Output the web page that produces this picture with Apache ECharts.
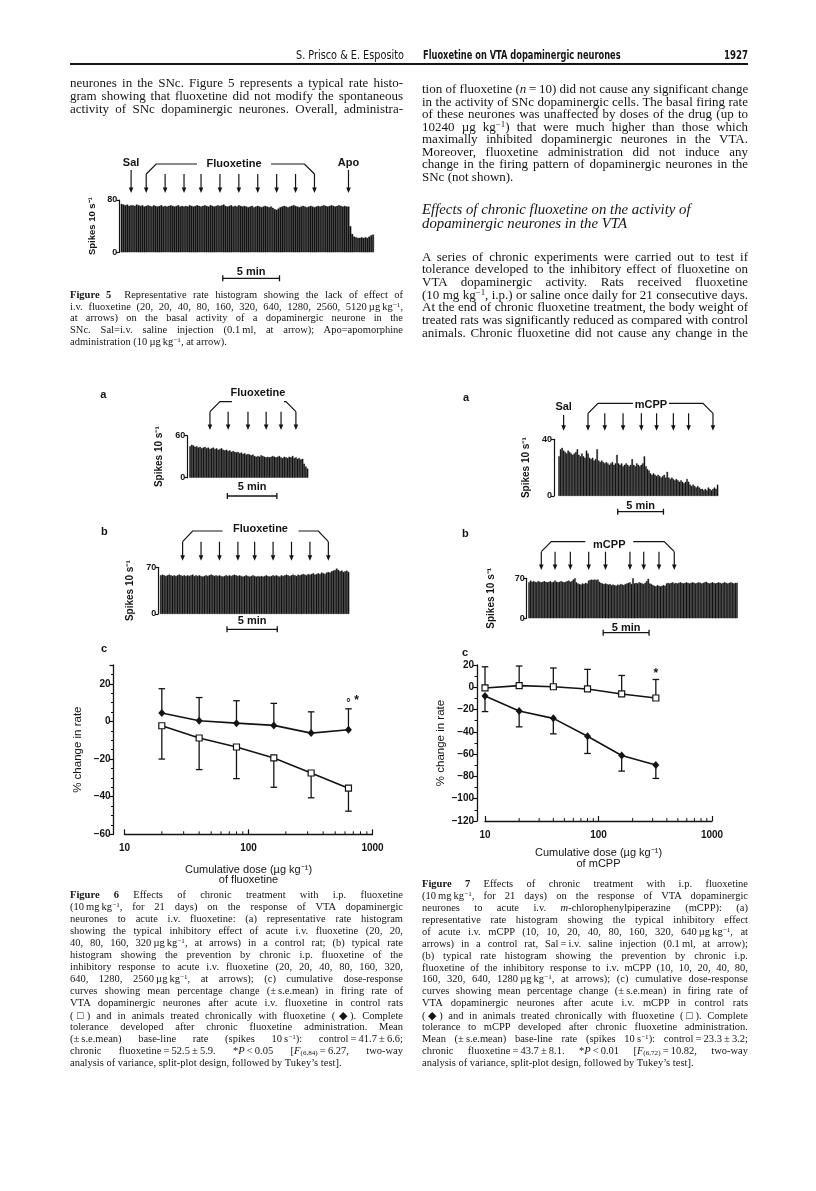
<!DOCTYPE html>
<html>
<head>
<meta charset="utf-8">
<script src="https://cdn.jsdelivr.net/npm/echarts@6/dist/echarts.min.js"></script>
<style>
  body { margin: 0; background: #fff; }
  #page { position: relative; width: 816px; height: 1191px; overflow: hidden; background: #fff; }
  #chart { position: absolute; left: 0; top: 0; width: 816px; height: 1191px; }
  .ln { position: absolute; white-space: nowrap; color: #141414; font-family: "Liberation Serif", "Times New Roman", serif; }
  .ln sup { font-size: 0.68em; vertical-align: 0.45em; line-height: 0; }
  .ln sub { font-size: 0.68em; vertical-align: -0.2em; line-height: 0; }
  .hd { position: absolute; color: #141414; white-space: nowrap; }
  .pl { position: absolute; font: bold 11px "Liberation Sans", Arial, sans-serif; color: #141414; }
</style>
</head>
<body>
<div id="page">
  <div id="chart"></div>
</div>
<script>
// ---- rate histograms: spikes per 10 s bin ----
var fig5Bins = [
  74,73,72,73,71,72,72,71,73,72,71,72,70,71,72,71,70,72,71,70,
  71,72,70,71,70,71,72,71,70,71,72,70,71,70,71,70,72,71,70,71,
  72,71,70,71,72,71,70,72,71,70,71,72,71,72,73,71,70,71,72,70,
  71,70,72,71,70,71,70,69,70,71,69,70,71,70,69,70,71,70,69,70,
  68,66,65,67,69,70,71,70,69,70,71,72,71,70,69,70,71,70,69,70,
  71,70,69,70,71,70,71,72,71,70,71,72,71,70,71,72,71,70,71,70,
  70,40,28,24,23,22,22,23,22,23,22,24,26,27
];
var fig5Sal = 5;
var fig5Fluox = [13, 23, 33, 42, 52, 62, 72, 82, 92, 102];
var fig5Apo = 120;

var fig6aBins = [
  45,47,46,44,45,43,44,42,43,44,42,43,
  41,42,43,41,42,40,41,42,40,39,40,38,
  39,37,38,37,36,37,35,36,34,35,33,34,
  33,32,33,31,30,31,30,32,31,30,29,30,
  29,30,31,30,29,30,31,29,28,30,29,28,
  30,29,31,28,29,27,28,26,27,20,16,13
];
var fig6aFluox = [12, 23, 35, 46, 55, 64];

var fig6bBins = [
  58,59,58,57,58,59,58,57,58,57,58,59,58,57,58,
  57,58,57,58,59,57,58,57,58,57,56,57,58,57,58,
  59,58,57,58,57,58,57,56,57,58,57,58,57,58,59,
  58,57,58,57,56,57,58,57,56,57,58,57,56,57,56,
  57,56,57,58,57,56,57,58,57,58,57,56,58,57,58,
  59,58,57,58,59,58,57,59,58,59,60,59,58,60,59,
  60,61,59,60,61,60,62,61,60,62,63,62,64,65,66,
  68,66,64,65,63,64,65,63
];
var fig6bFluox = [13, 24, 35, 46, 56, 67, 78, 89, 100];

var fig7aBins = [
  28,33,34,32,31,30,32,31,30,29,
  30,31,33,29,28,30,28,27,32,30,
  27,26,27,25,26,33,25,24,25,24,
  23,24,23,22,23,24,22,23,29,23,
  22,23,21,22,23,22,21,22,26,22,
  21,23,22,21,22,23,28,21,19,18,
  16,15,16,15,14,15,14,13,14,15,
  13,17,13,12,13,12,11,12,11,10,
  11,10,9,10,12,10,8,7,8,7,
  6,7,6,5,5,4,5,4,6,5,
  4,5,6,5,8
];
var fig7aSal = 3;
var fig7aMcpp = [19, 30, 42, 54, 64, 75, 85, 101];

var fig7bBins = [
  63,66,64,65,64,63,65,64,63,64,
  65,64,63,64,65,63,64,66,64,63,
  64,65,64,63,64,65,66,64,65,68,
  70,63,61,60,59,61,60,62,61,66,
  67,68,67,68,67,68,64,62,61,60,
  61,60,59,60,58,59,58,57,59,58,
  60,59,58,60,61,62,63,60,70,61,
  62,61,63,62,61,60,62,65,69,61,
  60,58,57,56,58,57,56,57,58,57,
  61,62,61,62,63,61,62,61,62,63,
  62,61,62,63,62,61,62,63,62,61,
  62,63,62,61,62,63,64,62,61,62,
  63,62,61,62,63,62,61,62,63,62,
  61,62,63,62,61,62,62
];
var fig7bMcpp = [8, 17, 27, 39, 50, 66, 75, 85, 95];

var binsPer5min = 30; // 10 s bins

// ---- cumulative dose-response curves ----
var fig6Dose = [20, 40, 80, 160, 320, 640];
var fig6Control = [-2.3, -8.8, -13.6, -19.4, -27.4, -35.5];
var fig6ControlSem = [17.7, 16.8, 16.8, 15.6, 13.2, 12.2];
var fig6Chronic = [4.5, 0.4, -0.9, -2.1, -6.2, -4.4];
var fig6ChronicSem = [12.9, 12.3, 11.9, 11.7, 11.3, 11.1];

var fig7Dose = [10, 20, 40, 80, 160, 320];
var fig7Control = [-7.8, -21.2, -27.9, -43.9, -61.2, -69.7];
var fig7ControlSem = [14, 14.3, 13.9, 15.5, 14, 12.1];
var fig7Chronic = [-0.6, 1.5, 0.5, -1.5, -6, -9.6];
var fig7ChronicSem = [19, 17.6, 16.8, 17.6, 16.6, 16.6];

var logMinorTicks = [20, 30, 40, 50, 60, 70, 80, 90, 200, 300, 400, 500, 600, 700, 800, 900];

// ---------------------------------------------------------------
var INK = '#141414';
var SANS = '"Liberation Sans", Arial, sans-serif';

var hists = [
  { data: fig5Bins,  max: 80, grid: { left: 120.7, top: 200,   width: 253.3, height: 52.3 }, off: 1.4, gap: 22, ns: 9.5 },
  { data: fig6aBins, max: 60, grid: { left: 189.3, top: 435.7, width: 119,   height: 42 },   off: 2,   gap: 23, ns: 10 },
  { data: fig6bBins, max: 70, grid: { left: 160,   top: 567.3, width: 189.3, height: 46.7 }, off: 1.7, gap: 23, ns: 10 },
  { data: fig7aBins, max: 40, grid: { left: 558.3, top: 439.3, width: 160,   height: 56.7 }, off: 4.3, gap: 23, ns: 10 },
  { data: fig7bBins, max: 70, grid: { left: 528.3, top: 578.3, width: 209.4, height: 40 },   off: 1.6, gap: 30, ns: 10 }
];

var grids = [], xAxes = [], yAxes = [], series = [];

hists.forEach(function (h, i) {
  grids.push(h.grid);
  xAxes.push({
    type: 'category', gridIndex: i, show: false, boundaryGap: true,
    data: h.data.map(function (v, k) { return k; })
  });
  yAxes.push({
    type: 'value', gridIndex: i, min: 0, max: h.max, interval: h.max, offset: h.off,
    axisLine: { show: true, lineStyle: { color: INK, width: 1.2 } },
    axisTick: { show: true, length: 3, lineStyle: { color: INK, width: 1.2 } },
    axisLabel: { color: INK, fontSize: 9, fontWeight: 'bold', fontFamily: SANS, margin: 2 },
    splitLine: { show: false },
    name: 'Spikes 10 s\u207B\u00B9', nameLocation: 'middle', nameGap: h.gap,
    nameTextStyle: { color: INK, fontSize: h.ns, fontWeight: 'bold', fontFamily: SANS }
  });
  series.push({
    type: 'bar', xAxisIndex: i, yAxisIndex: i, data: h.data, barCategoryGap: '0%',
    silent: true,
    itemStyle: { color: INK, borderColor: INK, borderWidth: 0.4 }
  });
});

function doseAxes(gi, gridDef, ymin, ymax, minorSplit, yOff, drugName) {
  grids.push(gridDef);
  xAxes.push({
    type: 'log', logBase: 10, gridIndex: gi, min: 10, max: 1000,
    axisLine: { show: true, onZero: false, lineStyle: { color: INK, width: 1.3 } },
    axisTick: { show: true, inside: true, length: 5, lineStyle: { color: INK, width: 1.2 } },
    axisLabel: { color: INK, fontSize: 10, fontWeight: 'bold', fontFamily: SANS, margin: 9,
      formatter: function (v) { return String(Math.round(v)); } },
    splitLine: { show: false },
    name: 'Cumulative dose (\u00B5g kg\u207B\u00B9)\nof ' + drugName,
    nameLocation: 'middle', nameGap: gi === 5 ? 30 : 27,
    nameTextStyle: { color: INK, fontSize: 11, fontFamily: SANS, lineHeight: 10.5 }
  });
  yAxes.push({
    type: 'value', gridIndex: gi, min: ymin, max: ymax, interval: 20, offset: yOff,
    axisLine: { show: true, onZero: false, lineStyle: { color: INK, width: 1.3 } },
    axisTick: { show: true, length: 4, lineStyle: { color: INK, width: 1.2 } },
    minorTick: { show: true, splitNumber: minorSplit, length: 2.5, lineStyle: { color: INK, width: 1 } },
    axisLabel: {
      color: INK, fontSize: 10, fontWeight: 'bold', fontFamily: SANS, margin: 3,
      formatter: function (v) { return v === ymax && ymax % 20 ? '' : String(v).replace('-', '\u2013'); }
    },
    splitLine: { show: false },
    name: '% change in rate', nameLocation: 'middle', nameGap: 30,
    nameTextStyle: { color: INK, fontSize: 11.5, fontFamily: SANS }
  });
}
doseAxes(5, { left: 124.5, top: 665, width: 248, height: 169.3 }, -60, 30, 4, 11, 'fluoxetine');
doseAxes(6, { left: 485, top: 665, width: 227, height: 156 }, -120, 20, 2, 8, 'mCPP');

function errBars(ai, xs, ys, sems, dir) {
  return {
    type: 'custom', xAxisIndex: ai, yAxisIndex: ai, z: 2, silent: true,
    data: xs.map(function (x, i) { return [x, ys[i], ys[i] + dir * sems[i]]; }),
    encode: { x: 0, y: [1, 2] },
    renderItem: function (params, api) {
      var p0 = api.coord([api.value(0), api.value(1)]);
      var p1 = api.coord([api.value(0), api.value(2)]);
      var st = { stroke: INK, lineWidth: 1.3 };
      return { type: 'group', children: [
        { type: 'line', shape: { x1: p0[0], y1: p0[1], x2: p1[0], y2: p1[1] }, style: st },
        { type: 'line', shape: { x1: p1[0] - 3.3, y1: p1[1], x2: p1[0] + 3.3, y2: p1[1] }, style: st }
      ] };
    }
  };
}
function curve(ai, xs, ys, filled) {
  return {
    type: 'line', xAxisIndex: ai, yAxisIndex: ai, z: 3, silent: true,
    data: xs.map(function (x, i) { return [x, ys[i]]; }),
    symbol: filled ? 'diamond' : 'rect', symbolSize: filled ? [7, 8] : 6,
    lineStyle: { color: INK, width: 1.6 },
    itemStyle: filled ? { color: INK } : { color: '#fff', borderColor: INK, borderWidth: 1.2 }
  };
}
function minorTicks(ai, ymin) {
  return {
    type: 'custom', xAxisIndex: ai, yAxisIndex: ai, silent: true,
    data: logMinorTicks.map(function (v) { return [v, ymin]; }),
    renderItem: function (params, api) {
      var c = api.coord([api.value(0), api.value(1)]);
      return { type: 'line', shape: { x1: c[0], y1: c[1], x2: c[0], y2: c[1] - 3 }, style: { stroke: INK, lineWidth: 1 } };
    }
  };
}

series.push(errBars(5, fig6Dose, fig6Chronic, fig6ChronicSem, 1));
series.push(errBars(5, fig6Dose, fig6Control, fig6ControlSem, -1));
series.push(curve(5, fig6Dose, fig6Chronic, true));
series.push(curve(5, fig6Dose, fig6Control, false));
series.push(minorTicks(5, -60));

series.push(errBars(6, fig7Dose, fig7Chronic, fig7ChronicSem, 1));
series.push(errBars(6, fig7Dose, fig7Control, fig7ControlSem, -1));
series.push(curve(6, fig7Dose, fig7Control, true));
series.push(curve(6, fig7Dose, fig7Chronic, false));
series.push(minorTicks(6, -120));

var chart = echarts.init(document.getElementById('chart'), null, { renderer: 'canvas' });
chart.setOption({
  animation: false,
  backgroundColor: 'transparent',
  grid: grids, xAxis: xAxes, yAxis: yAxes, series: series
});

// ---- arrows, brackets, scale bars (placed from the bin scale) ----
var g = [];
function bx(ai, bin) { return chart.convertToPixel({ xAxisIndex: ai }, bin); }
function binW(ai) { return bx(ai, 1) - bx(ai, 0); }
function txt(x, y, s, size) {
  g.push({ type: 'text', x: x, y: y, silent: true,
    style: { text: s, fill: INK, font: 'bold ' + (size || 11) + 'px ' + SANS, textAlign: 'center', textVerticalAlign: 'middle' } });
}
function arrow(x, y0, y1) {
  g.push({ type: 'line', silent: true, shape: { x1: x, y1: y0, x2: x, y2: y1 - 3 }, style: { stroke: INK, lineWidth: 1.2 } });
  g.push({ type: 'polygon', silent: true, shape: { points: [[x - 2.3, y1 - 5.5], [x + 2.3, y1 - 5.5], [x, y1]] }, style: { fill: INK } });
}
function injections(ai, bins, o) {
  var xs = bins.map(function (b) { return bx(ai, b); });
  xs.forEach(function (x) { arrow(x, o.top, o.tip); });
  var x1 = xs[0], xn = xs[xs.length - 1];
  var c = (x1 + xn) / 2 + o.dc;
  g.push({ type: 'polyline', silent: true, shape: { points: [[x1, o.top], [x1 + 10, o.br], [c - o.half, o.br]] },
    style: { stroke: INK, lineWidth: 1.2, fill: null } });
  g.push({ type: 'polyline', silent: true, shape: { points: [[c + o.half, o.br], [xn - 10, o.br], [xn, o.top]] },
    style: { stroke: INK, lineWidth: 1.2, fill: null } });
  txt(c, o.ty, o.label);
}
function single(ai, bin, label, top, tip, ty) {
  var x = bx(ai, bin);
  arrow(x, top, tip);
  txt(x, ty, label);
}
function scaleBar(ai, bin, y, ty) {
  var w = binW(ai);
  var xa = bx(ai, bin) - w / 2, xb = xa + binsPer5min * w;
  g.push({ type: 'line', silent: true, shape: { x1: xa, y1: y, x2: xb, y2: y }, style: { stroke: INK, lineWidth: 1.3 } });
  g.push({ type: 'line', silent: true, shape: { x1: xa, y1: y - 3, x2: xa, y2: y + 3 }, style: { stroke: INK, lineWidth: 1.3 } });
  g.push({ type: 'line', silent: true, shape: { x1: xb, y1: y - 3, x2: xb, y2: y + 3 }, style: { stroke: INK, lineWidth: 1.3 } });
  txt((xa + xb) / 2, ty, '5 min');
}

// Figure 5
injections(0, fig5Fluox, { top: 174, tip: 193, br: 164, ty: 164, dc: 3.7, half: 37, label: 'Fluoxetine' });
single(0, fig5Sal, 'Sal', 170, 193, 162.7);
single(0, fig5Apo, 'Apo', 170, 193, 162.7);
scaleBar(0, 54, 278.3, 271.7);
// Figure 6a, 6b
injections(1, fig6aFluox, { top: 411.7, tip: 430, br: 401.7, ty: 392.7, dc: 5, half: 26, label: 'Fluoxetine' });
scaleBar(1, 23, 496, 487.3);
injections(2, fig6bFluox, { top: 541.7, tip: 560.7, br: 531, ty: 529.3, dc: 5, half: 38, label: 'Fluoxetine' });
scaleBar(2, 40, 629.3, 620.7);
// Figure 7a, 7b
injections(3, fig7aMcpp, { top: 413.3, tip: 430.7, br: 403.3, ty: 405, dc: 0.5, half: 18, label: 'mCPP' });
single(3, fig7aSal, 'Sal', 415, 430.7, 407.3);
scaleBar(3, 39, 511.7, 506);
injections(4, fig7bMcpp, { top: 551.7, tip: 570, br: 541.7, ty: 545, dc: 1.5, half: 24, label: 'mCPP' });
scaleBar(4, 49, 632.7, 628.3);

// significance marks on the last dose
var p6 = chart.convertToPixel({ xAxisIndex: 5, yAxisIndex: 5 }, [fig6Dose[5], fig6Chronic[5] + fig6ChronicSem[5]]);
txt(p6[0], p6[1] - 6, '\u00B0', 11);
txt(p6[0] + 8, p6[1] - 8, '*', 12);
var p7 = chart.convertToPixel({ xAxisIndex: 6, yAxisIndex: 6 }, [fig7Dose[5], fig7Chronic[5] + fig7ChronicSem[5]]);
txt(p7[0], p7[1] - 6, '*', 12);

chart.setOption({ graphic: { elements: g } });

// ---- page text ----
var page = document.getElementById('page');
function el(cls, html, css) {
  var d = document.createElement('div');
  d.className = cls;
  d.innerHTML = html;
  for (var k in css) d.style[k] = css[k];
  page.appendChild(d);
  return d;
}
function block(lines, x, w, y0, dy, font, lastLeft, noJustify) {
  lines.forEach(function (t, i) {
    var just = !noJustify && !(lastLeft && i === lines.length - 1);
    var d = el('ln', t, {
      left: x + 'px', width: w + 'px', top: (y0 + i * dy - 8) + 'px', height: '16px', lineHeight: '16px',
      font: font, textAlign: 'left'
    });
    // squeeze a line slightly if the font runs wider than the printed column
    var over = d.scrollWidth - w;
    if (over > 0) {
      d.style.letterSpacing = (-(over + 1) / d.textContent.length) + 'px';
    }
    if (just) { d.style.textAlign = 'justify'; d.style.textAlignLast = 'justify'; }
  });
}

var LX = 70, LW = 333, RX = 422, RW = 326;
var sup1 = '<sup>\u22121</sup>';
var NARROW = '"Liberation Sans Narrow", "DejaVu Sans Condensed", "Liberation Sans", Arial, sans-serif';

el('hd', 'S. Prisco &amp; E. Esposito', { right: (816 - 404) + 'px', top: '48px', font: '12px ' + NARROW, transform: 'scaleX(0.9)', transformOrigin: 'right center' });
el('hd', 'Fluoxetine on VTA dopaminergic neurones', { left: '423px', top: '48px', font: 'bold 11.5px ' + NARROW, transform: 'scaleX(0.8)', transformOrigin: 'left center' });
el('hd', '1927', { right: (816 - 748) + 'px', top: '48px', font: 'bold 12px ' + NARROW, transform: 'scaleX(0.8)', transformOrigin: 'right center' });
el('hd', '', { left: '70px', top: '63px', width: '678px', height: '1.6px', background: INK });

var BODY = '13px "Liberation Serif", "Times New Roman", serif';
var CAP = '10.5px "Liberation Serif", "Times New Roman", serif';

block([
  'neurones in the SNc. Figure 5 represents a typical rate histo-',
  'gram showing that fluoxetine did not modify the spontaneous',
  'activity of SNc dopaminergic neurones. Overall, administra-'
], LX, LW, 83.3, 12.85, BODY, false);

block([
  '<b>Figure 5</b>&nbsp; Representative rate histogram showing the lack of effect of',
  'i.v. fluoxetine (20, 20, 40, 80, 160, 320, 640, 1280, 2560, 5120\u2009\u00B5g\u2009kg' + sup1 + ',',
  'at arrows) on the basal activity of a dopaminergic neurone in the',
  'SNc. Sal=i.v. saline injection (0.1\u2009ml, at arrow); Apo=apomorphine',
  'administration (10\u2009\u00B5g\u2009kg' + sup1 + ', at arrow).'
], LX, LW, 296.7, 11.8, CAP, true);

block([
  'tion of fluoxetine (<i>n</i>\u2009=\u200910) did not cause any significant change',
  'in the activity of SNc dopaminergic cells. The basal firing rate',
  'of these neurones was unaffected by doses of the drug (up to',
  '10240 \u00B5g kg' + sup1 + ') that were much higher than those which',
  'maximally inhibited dopaminergic neurones in the VTA.',
  'Moreover, fluoxetine administration did not induce any',
  'change in the firing pattern of dopaminergic neurones in the',
  'SNc (not shown).'
], RX, RW, 89.3, 12.48, BODY, true);

block([
  'Effects of chronic fluoxetine on the activity of',
  'dopaminergic neurones in the VTA'
], RX, RW, 209, 13.7, 'italic 14.8px "Liberation Serif", "Times New Roman", serif', true, true);

block([
  'A series of chronic experiments were carried out to test if',
  'tolerance developed to the inhibitory effect of fluoxetine on',
  'VTA dopaminergic activity. Rats received fluoxetine',
  '(10 mg kg' + sup1 + ', i.p.) or saline once daily for 21 consecutive days.',
  'At the end of chronic fluoxetine treatment, the body weight of',
  'treated rats was significantly reduced as compared with control',
  'animals. Chronic fluoxetine did not cause any change in the'
], RX, RW, 256.7, 12.67, BODY, false);

block([
  '<b>Figure 6</b> Effects of chronic treatment with i.p. fluoxetine',
  '(10\u2009mg\u2009kg' + sup1 + ', for 21 days) on the response of VTA dopaminergic',
  'neurones to acute i.v. fluoxetine: (a) representative rate histogram',
  'showing the typical inhibitory effect of acute i.v. fluoxetine (20, 20,',
  '40, 80, 160, 320\u2009\u00B5g\u2009kg' + sup1 + ', at arrows) in a control rat; (b) typical rate',
  'histogram showing the prevention by chronic i.p. fluoxetine of the',
  'inhibitory response to acute i.v. fluoxetine (20, 20, 40, 80, 160, 320,',
  '640, 1280, 2560\u2009\u00B5g\u2009kg' + sup1 + ', at arrows); (c) cumulative dose-response',
  'curves showing mean percentage change (\u00B1\u2009s.e.mean) in firing rate of',
  'VTA dopaminergic neurones after acute i.v. fluoxetine in control rats',
  '(\u25A1) and in animals treated chronically with fluoxetine (\u25C6). Complete',
  'tolerance developed after chronic fluoxetine administration. Mean',
  '(\u00B1\u2009s.e.mean) base-line rate (spikes 10\u2009s' + sup1 + '): control\u2009=\u200941.7\u2009\u00B1\u20096.6;',
  'chronic fluoxetine\u2009=\u200952.5\u2009\u00B1\u20095.9. *<i>P</i>\u2009&lt;\u20090.05 [<i>F</i><sub>(6,84)</sub>\u2009=\u20096.27, two-way',
  'analysis of variance, split-plot design, followed by Tukey\u2019s test].'
], LX, LW, 897.3, 12.0, CAP, true);

block([
  '<b>Figure 7</b> Effects of chronic treatment with i.p. fluoxetine',
  '(10\u2009mg\u2009kg' + sup1 + ', for 21 days) on the response of VTA dopaminergic',
  'neurones to acute i.v. <i>m</i>-chlorophenylpiperazine (mCPP): (a)',
  'representative rate histogram showing the typical inhibitory effect',
  'of acute i.v. mCPP (10, 10, 20, 40, 80, 160, 320, 640\u2009\u00B5g\u2009kg' + sup1 + ', at',
  'arrows) in a control rat, Sal\u2009=\u2009i.v. saline injection (0.1\u2009ml, at arrow);',
  '(b) typical rate histogram showing the prevention by chronic i.p.',
  'fluoxetine of the inhibitory response to i.v. mCPP (10, 10, 20, 40, 80,',
  '160, 320, 640, 1280\u2009\u00B5g\u2009kg' + sup1 + ', at arrows); (c) cumulative dose-response',
  'curves showing mean percentage change (\u00B1\u2009s.e.mean) in firing rate of',
  'VTA dopaminergic neurones after acute i.v. mCPP in control rats',
  '(\u25C6) and in animals treated chronically with fluoxetine (\u25A1). Complete',
  'tolerance to mCPP developed after chronic fluoxetine administration.',
  'Mean (\u00B1\u2009s.e.mean) base-line rate (spikes 10\u2009s' + sup1 + '): control\u2009=\u200923.3\u2009\u00B1\u20093.2;',
  'chronic fluoxetine\u2009=\u200943.7\u2009\u00B1\u20098.1. *<i>P</i>\u2009&lt;\u20090.01 [<i>F</i><sub>(6,72)</sub>\u2009=\u200910.82, two-way',
  'analysis of variance, split-plot design, followed by Tukey\u2019s test].'
], RX, RW, 886, 11.93, CAP, true);

// panel letters
[['a', 103.3, 395], ['b', 104, 531.7], ['c', 104, 649], ['a', 466, 398.3], ['b', 465, 534], ['c', 465, 652.7]].forEach(function (p) {
  el('pl', p[0], { left: (p[1] - 3) + 'px', top: (p[2] - 7) + 'px' });
});
</script>
</body>
</html>
